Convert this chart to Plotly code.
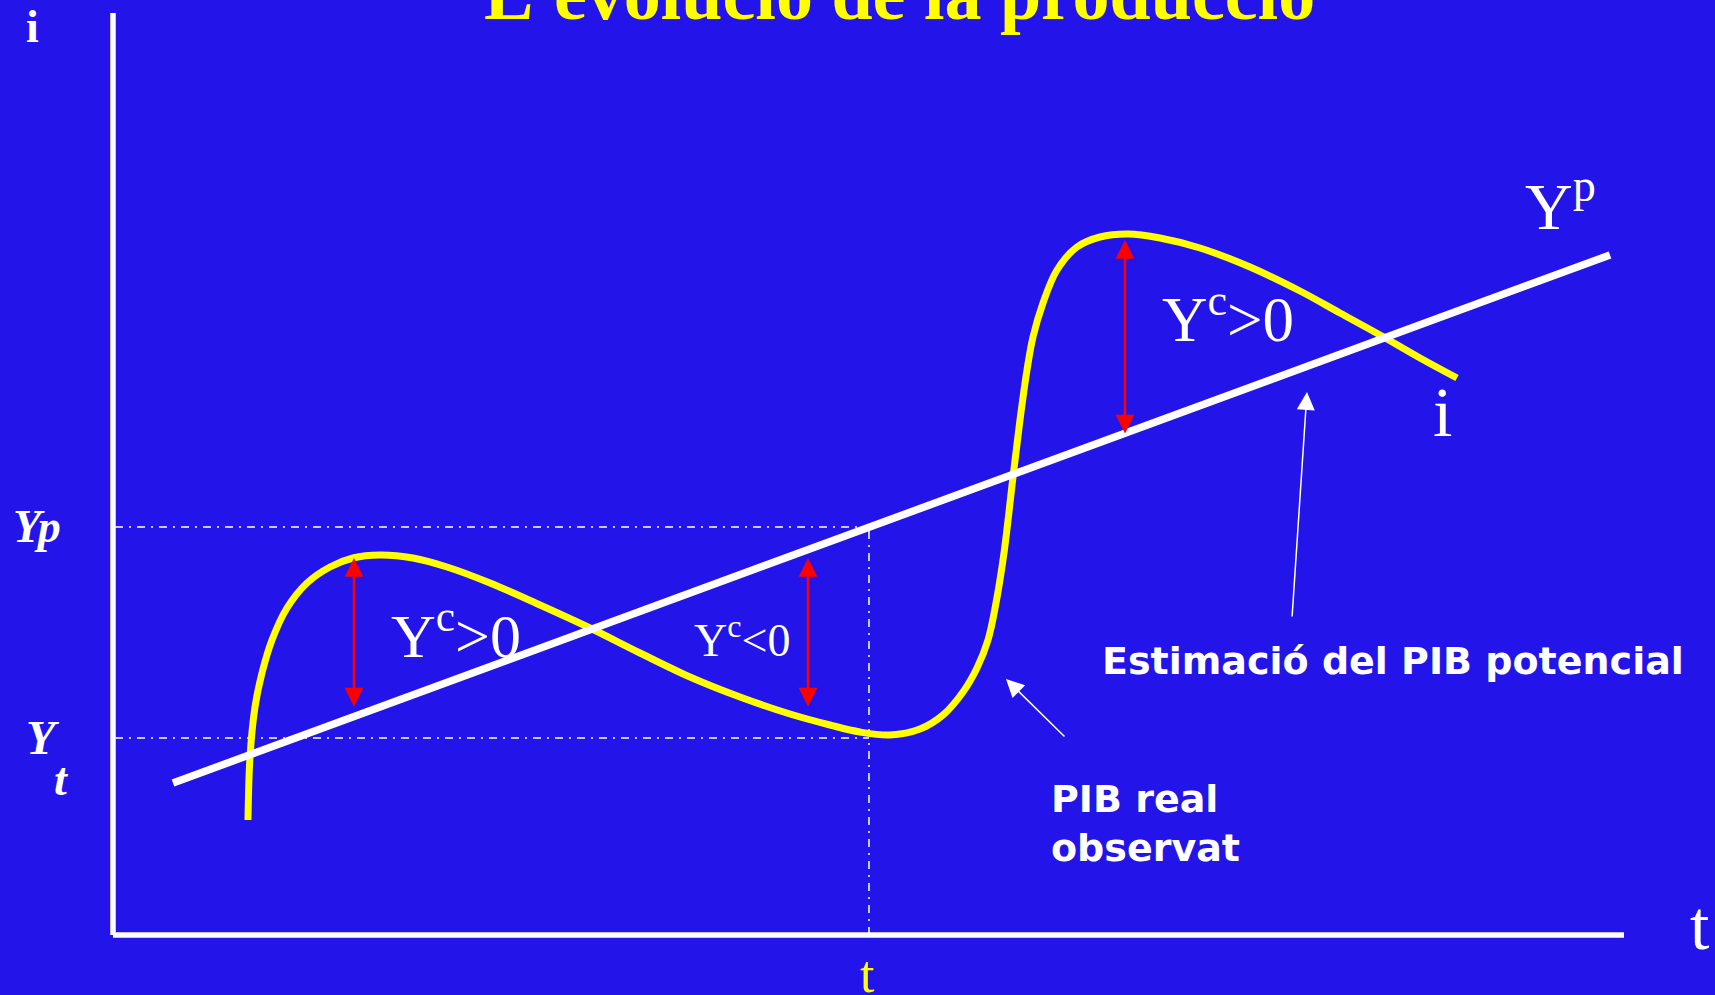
import plotly.graph_objects as go

# time axis / output values (y grows upward)
real_t = [248, 250, 255, 262, 272, 287, 307, 330, 353, 380, 413, 447, 490, 540, 590, 640, 690,
          740, 790, 830, 860, 890, 920, 943, 963, 977, 988, 996, 1004, 1013, 1020, 1027, 1033,
          1043, 1057, 1077, 1100, 1128, 1160, 1200, 1250, 1300, 1340, 1380, 1420, 1457]
real_y = [175, 238, 288, 322, 355, 387, 412, 428, 437, 440, 437, 428, 412, 390, 367, 342, 318,
          298, 281, 270, 263, 260, 266, 280, 303, 327, 355, 392, 442, 518, 575, 625, 658,
          692, 725, 748, 758, 761, 757, 747, 728, 704, 682, 660, 637, 617]

potential_t = [173, 1610]
potential_y = [212, 740]

t_mark = 869
yp_level = 468
yt_level = 257

axis_origin = [113, 60]
axis_t_end = 1624
axis_y_end = 982

# output-gap arrows: (t, lower, upper)
gap_arrows = [(354, 287, 437), (808, 287, 437), (1125, 560, 755)]

# pointer arrows: (tail_t, tail_y, head_t, head_y)
pointer_arrows = [(1292, 377, 1307, 603), (1066, 257, 1006, 316)]

BG = '#2314EA'
YELLOW = '#FFFF00'
SERIF = 'Liberation Serif'
SANS = 'DejaVu Sans'
DASHDOT = '8px,6px,2px,6px'

fig = go.Figure()

# dash-dot guides
fig.add_trace(go.Scatter(x=[axis_origin[0] + 2, t_mark], y=[yp_level, yp_level], mode='lines',
                         line=dict(color='white', width=1.5, dash=DASHDOT)))
fig.add_trace(go.Scatter(x=[axis_origin[0] + 2, t_mark], y=[yt_level, yt_level], mode='lines',
                         line=dict(color='white', width=1.5, dash=DASHDOT)))
fig.add_trace(go.Scatter(x=[t_mark, t_mark], y=[axis_origin[1], yp_level], mode='lines',
                         line=dict(color='white', width=1.5, dash=DASHDOT)))

# axes
fig.add_trace(go.Scatter(x=[axis_origin[0], axis_origin[0]], y=[axis_origin[1], axis_y_end],
                         mode='lines', line=dict(color='white', width=5.5)))
fig.add_trace(go.Scatter(x=[axis_origin[0], axis_t_end], y=[axis_origin[1], axis_origin[1]],
                         mode='lines', line=dict(color='white', width=5.5)))

# real GDP and potential GDP
fig.add_trace(go.Scatter(x=real_t, y=real_y, mode='lines',
                         line=dict(color=YELLOW, width=7, shape='spline', smoothing=1)))
fig.add_trace(go.Scatter(x=potential_t, y=potential_y, mode='lines',
                         line=dict(color='white', width=7.5)))

ann = []
for t, lo, hi in gap_arrows:
    ann.append(dict(x=t, y=hi, ax=t, ay=lo, xref='x', yref='y', axref='x', ayref='y',
                    text='', showarrow=True, arrowside='end+start', arrowcolor='red',
                    arrowwidth=2.5, arrowhead=2, arrowsize=1.5, startarrowhead=2,
                    startarrowsize=1.5, standoff=0, startstandoff=0))
for tt, ty, ht, hy in pointer_arrows:
    ann.append(dict(x=ht, y=hy, ax=tt, ay=ty, xref='x', yref='y', axref='x', ayref='y',
                    text='', showarrow=True, arrowcolor='white', arrowwidth=1.5,
                    arrowhead=2, arrowsize=2.4, standoff=0))


def label(x, y, text, size, family=SERIF, color='white', xa='left', ya='bottom', align='left'):
    ann.append(dict(x=x, y=y, xref='x', yref='y', text=text, showarrow=False,
                    xanchor=xa, yanchor=ya, align=align,
                    font=dict(family=family, size=size, color=color)))


label(899, 958, "<b>L'evolució de la producció</b>", 74, color=YELLOW, xa='center')
label(32.5, 941, '<b>i</b>', 46, xa='center')
label(37, 441, '<b><i>Yp</i></b>', 46, xa='center')
label(42, 229, '<b><i>Y</i></b>', 48, xa='center')
label(61, 188, '<b><i>t</i></b>', 46, xa='center')
label(389, 323, 'Y<sup>c</sup>>0', 62)
label(692, 327, 'Y<sup>c</sup><0', 46)
label(1160, 638, 'Y<sup>c</sup>>0', 63)
label(1523, 750, 'Y<sup>p</sup>', 66)
label(1442, 542, 'i', 70, xa='center')
label(1700, 29, 't', 70, xa='center')
label(867, 51, 't', 52, color=YELLOW, xa='center', ya='top')
label(1100, 310, '<b>Estimació del PIB potencial</b>', 38, family=SANS)
label(1049, 123, '<b>PIB real<br>observat</b>', 38, family=SANS)

fig.update_layout(
    width=1715, height=995,
    margin=dict(l=0, r=0, t=0, b=0),
    paper_bgcolor=BG, plot_bgcolor=BG,
    showlegend=False, hovermode=False,
    xaxis=dict(range=[0, 1715], visible=False, fixedrange=True),
    yaxis=dict(range=[0, 995], visible=False, fixedrange=True),
    annotations=ann,
)

fig.write_html("out.html", config={'displayModeBar': False},
               post_script="document.body.style.margin='0';document.body.style.overflow='hidden';")
